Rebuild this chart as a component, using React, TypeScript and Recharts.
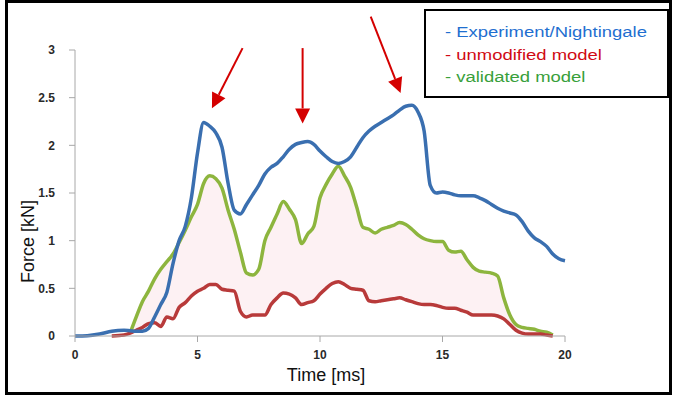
import React from 'react';
import { ComposedChart, Line, Area, XAxis, YAxis, ReferenceLine } from 'recharts';

// time axis in ms
const times = [
  0, 0.5, 1, 1.5, 2,
  2.25, 2.5, 2.75, 3, 3.25, 3.5, 3.75, 4, 4.25, 4.5, 4.75, 5,
  5.25, 5.5, 5.75, 6, 6.25, 6.5, 6.75, 7, 7.25, 7.5, 7.75, 8,
  8.25, 8.5, 8.75, 9, 9.25, 9.5, 9.75, 10, 10.25, 10.5, 10.75, 11,
  11.25, 11.5, 11.75, 12, 12.25, 12.5, 12.75, 13, 13.25, 13.5, 13.75, 14,
  14.25, 14.5, 14.75, 15, 15.25, 15.5, 15.75, 16, 16.25, 16.5, 16.75, 17,
  17.25, 17.5, 17.75, 18, 18.25, 18.5, 18.75, 19, 19.25, 19.5, 19.75, 20,
];

// force in kN
const experiment = [
  0, 0.003, 0.02, 0.05, 0.06,
  0.055, 0.05, 0.05, 0.08,
  0.2, 0.33, 0.46, 0.76,
  1.0, 1.15, 1.45, 1.92,
  2.24, 2.2, 2.13, 1.98,
  1.6, 1.32, 1.28, 1.38,
  1.48, 1.58, 1.7, 1.77,
  1.81, 1.88, 1.96, 2.01,
  2.03, 2.04, 2.01, 1.94,
  1.88, 1.83, 1.81, 1.83,
  1.88, 1.98, 2.08, 2.15,
  2.2, 2.24, 2.28, 2.32,
  2.37, 2.41, 2.42, 2.35,
  2.15, 1.58, 1.5, 1.51,
  1.5, 1.48, 1.47, 1.47,
  1.47, 1.45, 1.42, 1.38,
  1.34, 1.31, 1.29, 1.27,
  1.2, 1.1, 1.03, 0.99,
  0.94, 0.86, 0.81, 0.79,
];

const unmodified = [
  null, null, null, 0, 0.01,
  0.03, 0.06, 0.09, 0.13,
  0.14, 0.1, 0.2, 0.18,
  0.3, 0.35, 0.42, 0.47,
  0.5, 0.54, 0.54, 0.49,
  0.48, 0.47, 0.26, 0.2,
  0.22, 0.22, 0.22, 0.33,
  0.4, 0.45, 0.44, 0.4,
  0.33, 0.35, 0.37, 0.44,
  0.5, 0.55, 0.57, 0.54,
  0.5, 0.49, 0.48, 0.37,
  0.36, 0.37, 0.38, 0.39,
  0.4, 0.38, 0.36, 0.34,
  0.33, 0.33, 0.32, 0.3,
  0.29, 0.29, 0.27, 0.25,
  0.22, 0.22, 0.22, 0.22,
  0.21, 0.18, 0.12, 0.06,
  0.03, 0.02, 0.02, 0.02,
  0.01, 0, null, null,
];

const validated = [
  null, null, null, null, null,
  0.03, 0.2, 0.36, 0.47,
  0.6, 0.7, 0.78, 0.86,
  0.98, 1.11, 1.25, 1.38,
  1.6, 1.68, 1.65, 1.55,
  1.32, 1.12, 0.88, 0.66,
  0.64, 0.7, 1.0, 1.14,
  1.28, 1.41, 1.33, 1.22,
  0.97, 1.07, 1.15, 1.45,
  1.59, 1.7, 1.78, 1.68,
  1.56, 1.35, 1.14, 1.12,
  1.08, 1.12, 1.14, 1.16,
  1.19, 1.17, 1.12, 1.06,
  1.02, 1.0, 0.99, 0.99,
  0.9, 0.88, 0.89, 0.8,
  0.72, 0.68, 0.67, 0.66,
  0.63, 0.4, 0.22, 0.12,
  0.09, 0.08, 0.07, 0.05,
  0.04, 0.01, null, null,
];

const xTicks = [0, 5, 10, 15, 20];
const yTicks = [0, 0.5, 1, 1.5, 2, 2.5, 3];

// red annotation arrows, in data units (tail -> tip)
const arrows = [
  { x1: 6.84, y1: 3.02, x2: 5.59, y2: 2.39 },
  { x1: 9.29, y1: 3.02, x2: 9.29, y2: 2.23 },
  { x1: 12.07, y1: 3.35, x2: 13.29, y2: 2.55 },
];

const legendItems = [
  { label: '- Experiment/Nightingale', color: '#1f6fd0' },
  { label: '- unmodified model', color: '#d00a14' },
  { label: '- validated model', color: '#38a03a' },
];

const BLUE = '#3a6fb0';
const RED = '#b83a3a';
const GREEN = '#8db53e';
const ARROW = '#d40000';

const data = times.map((t, i) => ({
  t,
  experiment: experiment[i],
  unmodified: unmodified[i],
  validated: validated[i],
}));

const Arrow = (props: any) => {
  const { x1, y1, x2, y2 } = props;
  const dx = x2 - x1;
  const dy = y2 - y1;
  const len = Math.sqrt(dx * dx + dy * dy) || 1;
  const ux = dx / len;
  const uy = dy / len;
  const head = 15;
  const half = 7.5;
  const bx = x2 - ux * head;
  const by = y2 - uy * head;
  const pts = `${x2},${y2} ${bx - uy * half},${by + ux * half} ${bx + uy * half},${by - ux * half}`;
  return (
    <g>
      <line x1={x1} y1={y1} x2={bx} y2={by} stroke={ARROW} strokeWidth={2} />
      <polygon points={pts} fill={ARROW} />
    </g>
  );
};

const tickStyle = { fontSize: 12, fontWeight: 700, fill: '#2a2a2a', fontFamily: 'Liberation Sans, Arial, sans-serif' };

const App = () => {
  return (
    <div
      style={{
        position: 'absolute',
        left: 0,
        top: 0,
        width: 673,
        height: 396,
        background: '#fff',
        fontFamily: 'Liberation Sans, Arial, sans-serif',
        overflow: 'hidden',
      }}
    >
      <ComposedChart
        width={673}
        height={396}
        data={data}
        margin={{ top: 50, right: 108, bottom: 30, left: 0 }}
      >
        <XAxis
          dataKey="t"
          type="number"
          domain={[0, 20]}
          ticks={xTicks}
          stroke="#a8a8a8"
          tickSize={6}
          tickMargin={8}
          tick={tickStyle}
          height={30}
          label={{
            content: (p: any) => (
              <text
                x={p.viewBox.x + p.viewBox.width / 2 + 6}
                y={p.viewBox.y + 45}
                textAnchor="middle"
                fontSize={18}
                fill="#111"
              >
                Time [ms]
              </text>
            ),
          }}
        />
        <YAxis
          type="number"
          domain={[0, 3]}
          ticks={yTicks}
          stroke="#a8a8a8"
          tickSize={6}
          tickMargin={14}
          tick={tickStyle}
          width={75}
          label={{
            content: (p: any) => {
              const cx = p.viewBox.x + 34;
              const cy = p.viewBox.y + p.viewBox.height * 0.67;
              return (
                <text
                  x={cx}
                  y={cy}
                  transform={`rotate(-90 ${cx} ${cy})`}
                  textAnchor="middle"
                  fontSize={18}
                  fill="#111"
                >
                  Force [kN]
                </text>
              );
            },
          }}
        />
        <Area
          type="monotone"
          dataKey={(d: any) =>
            d.unmodified != null && d.validated != null ? [d.unmodified, d.validated] : null
          }
          stroke="none"
          fill="#fdf1f3"
          fillOpacity={1}
          isAnimationActive={false}
        />
        <Line
          type="monotone"
          dataKey="validated"
          stroke={GREEN}
          strokeWidth={3.5}
          dot={false}
          isAnimationActive={false}
        />
        <Line
          type="monotone"
          dataKey="unmodified"
          stroke={RED}
          strokeWidth={3.5}
          dot={false}
          isAnimationActive={false}
        />
        <Line
          type="monotone"
          dataKey="experiment"
          stroke={BLUE}
          strokeWidth={3.5}
          dot={false}
          isAnimationActive={false}
        />
        {arrows.map((a, i) => (
          <ReferenceLine
            key={i}
            segment={[{ x: a.x1, y: a.y1 }, { x: a.x2, y: a.y2 }]}
            ifOverflow="visible"
            shape={Arrow}
          />
        ))}
      </ComposedChart>

      <div
        style={{
          position: 'absolute',
          left: 424,
          top: 9,
          width: 245,
          height: 89,
          boxSizing: 'border-box',
          border: '2px solid #000',
          background: '#fff',
          paddingLeft: 19,
          paddingTop: 10,
        }}
      >
        {legendItems.map((it) => (
          <div
            key={it.label}
            style={{
              color: it.color,
              fontSize: 15.5,
              lineHeight: '22.5px',
              whiteSpace: 'nowrap',
              transform: 'scaleX(1.19)',
              transformOrigin: 'left center',
            }}
          >
            {it.label}
          </div>
        ))}
      </div>

      <div
        style={{
          position: 'absolute',
          left: 5,
          top: 0,
          width: 667,
          height: 395,
          boxSizing: 'border-box',
          border: '3px solid #000',
          pointerEvents: 'none',
        }}
      />
    </div>
  );
};

export default App;
